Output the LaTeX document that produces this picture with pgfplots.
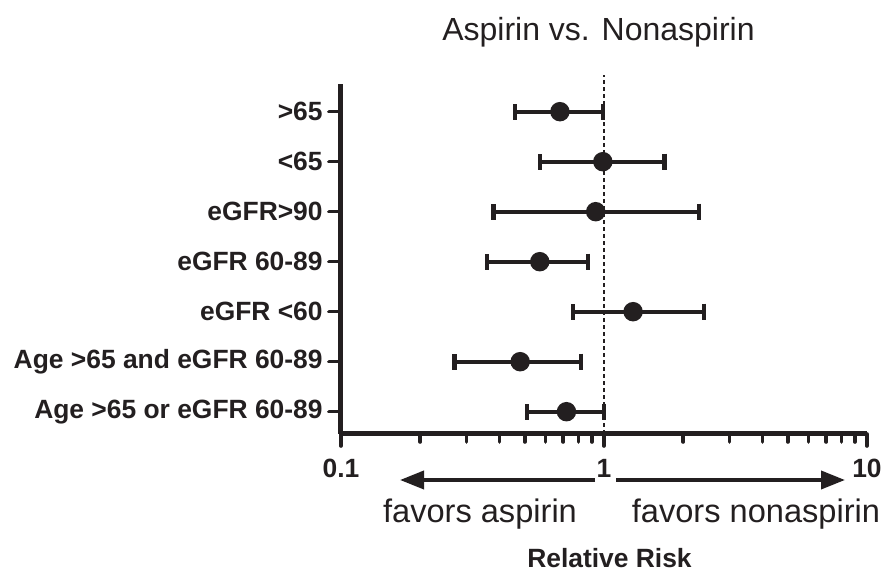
\documentclass[border=0pt]{standalone}
\usepackage{pgfplots}
\pgfplotsset{compat=1.18}
\usepackage{pgfplotstable}
\usepackage{fontspec}
\setmainfont{Liberation Sans}
\usetikzlibrary{arrows.meta}
\definecolor{ink}{RGB}{35,31,32}

% row, relative risk, CI upper - RR, RR - CI lower
\pgfplotstableread{
row rr  ep   em
7   0.68 0.31 0.22
6   0.99 0.71 0.42
5   0.93 1.37 0.55
4   0.57 0.30 0.21
3   1.29 1.11 0.53
2   0.48 0.34 0.21
1   0.72 0.28 0.21
}\rrdata

\begin{document}
\begin{tikzpicture}
\begin{axis}[
  xmode=log,
  width=263pt, height=175pt,
  scale only axis,
  xmin=0.1, xmax=10,
  ymin=0.554, ymax=7.554,
  axis lines=left,
  axis line style={-, line width=2.5pt, ink},
  clip=false,
  xtick={0.1,1,10},
  xticklabels={0.1,1,10},
  ytick={1,2,3,4,5,6,7},
  yticklabels={Age >65 or eGFR 60-89, Age >65 and eGFR 60-89, eGFR <60,
    eGFR 60-89, eGFR>90, <65, >65},
  tick align=outside,
  major tick length=6pt,
  minor tick length=4pt,
  every tick/.style={ink, line width=1.8pt, line cap=round},
  ticklabel style={font=\fontsize{13.2}{15}\selectfont\bfseries, text=ink},
  /pgf/number format/assume math mode=true,
  yticklabel style={inner sep=0pt, xshift=-3pt},
  xticklabel style={inner sep=0pt, yshift=-6.5pt},
]
\addplot[ink, line width=0.6pt, dash pattern=on 2pt off 1.5pt]
  coordinates {(1,0.554) (1,7.74)};
\addplot[ink, only marks, mark=*, mark size=3.8pt, line width=2.1pt,
  error bars/.cd, x dir=both, x explicit,
  error bar style={line width=2.1pt, ink},
  error mark options={rotate=90, mark size=4pt, line width=2.1pt, ink}]
  table[x=rr, y=row, x error plus=ep, x error minus=em] {\rrdata};
\end{axis}
\node[anchor=base, font=\fontsize{16}{18}\selectfont, text=ink] at (128.75pt,196.5pt) {Aspirin vs. Nonaspirin};
\draw[ink, line width=1.9pt, -{Triangle[length=12pt,width=9pt]}] (127pt,-23pt) -- (29.5pt,-23pt);
\draw[ink, line width=1.9pt, -{Triangle[length=12pt,width=9pt]}] (137.5pt,-23pt) -- (252pt,-23pt);
\node[anchor=base, font=\fontsize{16.3}{18}\selectfont, text=ink] at (69.5pt,-44.5pt) {favors aspirin};
\node[anchor=base, font=\fontsize{16.3}{18}\selectfont, text=ink] at (207.5pt,-44.5pt) {favors nonaspirin};
\node[anchor=base, font=\fontsize{13.2}{15}\selectfont\bfseries, text=ink] at (134.25pt,-66.7pt) {Relative Risk};
\pgfresetboundingbox
\path (-170.5pt,-68.5pt) rectangle (271pt,217pt);
\end{tikzpicture}
\end{document}
